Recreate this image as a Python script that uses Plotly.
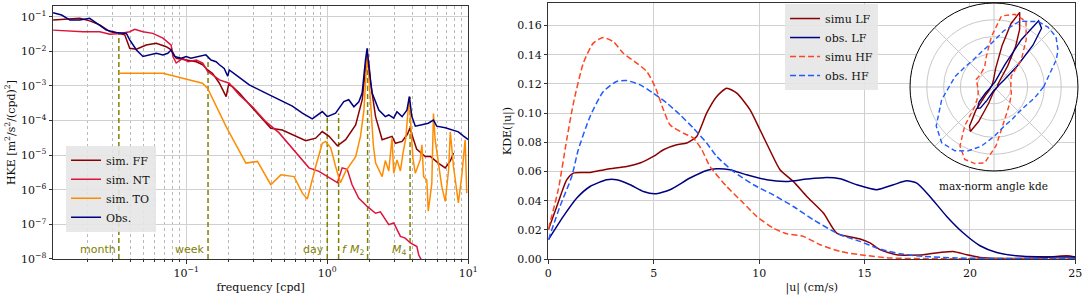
import numpy as np
import plotly.graph_objects as go

# ---------------- Left panel: HKE spectra ----------------
obs_f = [0.0114, 0.0131, 0.015, 0.0176, 0.0207, 0.0231, 0.0272, 0.032, 0.0377, 0.0398, 0.0444, 0.0494,
         0.055, 0.0614, 0.0684, 0.0741, 0.0783, 0.0827, 0.0922, 0.1, 0.108, 0.124, 0.138, 0.150, 0.163,
         0.172, 0.186, 0.197, 0.202, 0.225, 0.28, 0.367, 0.48, 0.566, 0.666, 0.783, 0.922, 1.0, 1.146,
         1.31, 1.42, 1.545, 1.675, 1.767, 1.866, 1.917, 1.97, 2.08, 2.32, 2.58, 2.73, 2.96, 3.12, 3.39,
         3.67, 3.82, 3.98, 4.21, 4.69, 5.2, 5.66, 5.97, 6.86, 7.85, 8.5, 9.2, 10.0]
obs_v = [0.13, 0.112, 0.080, 0.080, 0.090, 0.065, 0.041, 0.035, 0.033, 0.0214, 0.011, 0.0071,
         0.0079, 0.0088, 0.0079, 0.0088, 0.011, 0.0071, 0.0063, 0.0071, 0.0063, 0.0071, 0.0079, 0.0056, 0.0050,
         0.0041, 0.0032, 0.0019, 0.0029, 0.0021, 0.00107, 0.00062, 0.00035, 0.00026, 0.000163, 0.000112, 0.000182, 0.00013, 0.000163,
         0.000355, 0.0004, 0.00025, 0.00035, 0.00062, 0.0056, 0.01225, 0.0036, 0.00062, 0.0002, 0.00013, 0.000145, 0.000117, 0.00018, 0.00013,
         0.0002, 0.00049, 0.00013, 0.000069, 0.000076, 0.000084, 0.000103, 0.000069, 0.000062, 0.000053, 0.000047, 0.000036, 0.000028]

ff_f = [0.0114, 0.0142, 0.0176, 0.0207, 0.0244, 0.0288, 0.034, 0.0367, 0.0398, 0.0444, 0.052, 0.0614,
        0.0722, 0.0783, 0.085, 0.1, 0.118, 0.131, 0.142, 0.154, 0.172, 0.192, 0.2, 0.213, 0.238, 0.312,
        0.398, 0.48, 0.598, 0.704, 0.828, 0.922, 1.03, 1.18, 1.35, 1.59, 1.77, 1.87, 1.92, 1.98, 2.03,
        2.2, 2.45, 2.88, 3.04, 3.39, 3.7, 3.85, 4.0, 4.3, 4.95, 5.4, 6.13, 6.86, 7.45, 7.85]
ff_v = [0.080, 0.084, 0.090, 0.076, 0.058, 0.037, 0.033, 0.030, 0.0123, 0.0115, 0.0152, 0.017,
        0.0136, 0.011, 0.0063, 0.0056, 0.005, 0.0041, 0.0029, 0.0023, 0.0012, 0.00049, 0.0011, 0.00096, 0.00062, 0.00018,
        0.00006, 0.000053, 0.000035, 0.000026, 0.000031, 0.000048, 0.000035, 0.0000186, 0.000028, 0.000075, 0.0004, 0.003, 0.0095, 0.004, 0.0012,
        0.00013, 0.000028, 0.000035, 0.000022, 0.000025, 0.00004, 0.00006, 0.000035, 0.000015, 0.0000091, 0.0000091, 0.0000059, 0.0000043, 0.0000068, 0.0000115]

nt_f = [0.0114, 0.0186, 0.0244, 0.0288, 0.034, 0.0398, 0.0431, 0.0494, 0.058, 0.0684, 0.0783, 0.0805,
        0.085, 0.0946, 0.103, 0.118, 0.131, 0.142, 0.154, 0.172, 0.202, 0.238, 0.295, 0.367, 0.456, 0.552,
        0.63, 0.742, 0.874, 1.085, 1.18, 1.276, 1.385, 1.5, 1.63, 1.67, 1.92, 2.2, 2.38, 2.73, 2.96, 3.3,
        3.57, 3.88, 4.32, 4.45, 4.75]
nt_v = [0.041, 0.037, 0.037, 0.031, 0.033, 0.037, 0.0433, 0.037, 0.033, 0.024, 0.015, 0.0071,
        0.0046, 0.0063, 0.005, 0.0056, 0.0046, 0.0026, 0.0021, 0.0015, 0.0012, 0.00055, 0.00025, 0.000093, 0.000044, 0.000018,
        0.0000091, 0.0000043, 0.0000034, 0.00000195, 0.0000016, 0.0000043, 0.0000039, 0.0000014, 0.00000072, 0.00000058, 0.00000033, 0.00000021, 0.00000023, 0.000000098, 0.00000011, 0.000000045,
        0.00000004, 0.000000029, 0.000000023, 0.000000013, 0.000000008]

to_f = [0.0333, 0.0684, 0.1306, 0.142, 0.192, 0.265, 0.32, 0.398, 0.469, 0.582, 0.666, 0.722, 0.828,
        0.922, 0.975, 1.06, 1.146, 1.24, 1.35, 1.42, 1.59, 1.72, 1.82, 1.88, 1.93, 1.98, 2.05, 2.12, 2.2,
        2.32, 2.45, 2.58, 2.73, 2.88, 2.96, 3.12, 3.3, 3.45, 3.6, 3.72, 3.82, 3.92, 4.05, 4.21, 4.56, 4.69,
        4.82, 5.08, 5.2, 5.51, 5.66, 5.82, 6.13, 6.48, 6.86, 7.25, 7.45, 7.85, 8.5, 8.97, 9.49, 9.75]
to_v = [0.00233, 0.00233, 0.0012, 0.00085, 0.000067, 0.0000059, 0.0000066, 0.0000014, 0.0000027, 0.0000024, 0.0000008, 0.00000054, 0.0000047,
        0.000022, 0.000025, 0.000016, 0.0000047, 0.0000016, 0.0000034, 0.0000047, 0.0000091, 0.000035, 0.0002, 0.002, 0.0079, 0.0015, 0.00015, 0.00002, 0.000006,
        0.0000038, 0.0000024, 0.000007, 0.0000035, 0.000031, 0.000003, 0.0000073, 0.0000035, 0.000012, 0.00003, 0.00015, 0.00049, 0.00006, 0.000008, 0.000003, 0.0000073, 0.00002,
        0.0000024, 0.0000019, 0.00000024, 0.0000015, 0.00016, 0.000028, 0.0000073, 0.00000126, 0.00000046, 0.0000038, 0.000047, 0.0000047, 0.00000042, 0.0000024, 0.000028, 0.0000008]

# tidal / period markers
mark_names = ["month", "week", "day", "<i>f</i>", "<i>M</i><sub>2</sub>", "<i>M</i><sub>4</sub>"]
mark_f = [1 / 30, 1 / 7, 1.0, 1.204, 1.932, 3.864]
mark_top = [0.033, 0.0063, 0.00013, 0.00016, 0.012, 0.00049]

# ---------------- Right panel: speed KDE ----------------
simLF_u = [0, 0.4, 0.87, 1.19, 1.98, 2.77, 3.72, 4.35, 4.98, 5.46, 6.09, 6.57, 7.04, 7.51, 7.99, 8.46, 8.94, 9.57,
           10.04, 10.5, 10.99, 11.62, 12.26, 13.05, 13.68, 14.79, 15.26, 15.73, 16.53, 17.79, 18.58, 19.21,
           19.85, 20.48, 21.75, 23.2, 24.6, 25]
simLF_k = [0.0201, 0.036, 0.0543, 0.0589, 0.0593, 0.0616, 0.0634, 0.0658, 0.0703, 0.0749, 0.0783, 0.0795, 0.084,
           0.100, 0.1114, 0.1171, 0.1137, 0.1023, 0.0886, 0.0749, 0.0612, 0.0532, 0.0429, 0.0315, 0.0178, 0.0137,
           0.011, 0.0064, 0.0029, 0.0029, 0.0045, 0.0052, 0.0029, 0.0011, 0.0004, 0.0007, 0.0023, 0.0014]

obsLF_u = [0, 0.71, 1.35, 1.98, 2.77, 3.24, 3.88, 4.51, 5.06, 5.77, 6.72, 7.51, 7.99, 8.62, 9.41, 10.36, 11.31,
           12.26, 13.21, 13.84, 14.63, 15.58, 16.37, 17.0, 17.48, 18.1, 18.9, 19.69, 20.48, 21.27, 22.53, 25]
obsLF_k = [0.0132, 0.0292, 0.0418, 0.0497, 0.0543, 0.0543, 0.0509, 0.0463, 0.0447, 0.0475, 0.0555, 0.0607, 0.0619,
           0.0612, 0.0577, 0.0543, 0.0532, 0.0548, 0.0559, 0.055, 0.0509, 0.0475, 0.0509, 0.0536, 0.052, 0.0429,
           0.0292, 0.0178, 0.0091, 0.0045, 0.0018, 0.0014]

simHF_u = [0, 0.47, 0.87, 1.19, 1.66, 2.13, 2.61, 3.08, 3.56, 4.19, 4.67, 5.06, 5.46, 5.77, 6.4, 6.88, 7.28,
           7.67, 8.46, 9.25, 9.88, 10.67, 11.31, 12.1, 12.89, 13.84, 14.79, 16.2, 18.6, 25]
simHF_k = [0.0206, 0.0475, 0.0817, 0.1069, 0.1343, 0.148, 0.1518, 0.149, 0.141, 0.1343, 0.1285, 0.1182, 0.1023,
           0.092, 0.0863, 0.0829, 0.0749, 0.0634, 0.0497, 0.0384, 0.0292, 0.0212, 0.0173, 0.0155, 0.0098, 0.0052,
           0.0029, 0.0007, 0.0002, 0.0001]

obsHF_u = [0, 0.55, 1.11, 1.42, 1.98, 2.61, 3.24, 3.72, 4.35, 4.98, 5.62, 6.25, 6.88, 7.51, 7.99, 8.78, 9.73,
           10.67, 11.62, 12.57, 13.84, 14.79, 15.58, 16.68, 17.79, 19.37, 25]
obsHF_k = [0.0132, 0.036, 0.0566, 0.0749, 0.0977, 0.1148, 0.1217, 0.1223, 0.1194, 0.1137, 0.1069, 0.0988, 0.0897,
           0.0795, 0.0703, 0.06, 0.0509, 0.044, 0.036, 0.0269, 0.0166, 0.0121, 0.0075, 0.0036, 0.0018, 0.0007, 0.0002]

# ---------------- Inset: max-normalised angle KDE ----------------
simLF_th = [0, 30, 50, 57, 62, 66, 71, 75, 79, 85, 95, 120, 150, 180, 210, 225, 232, 238, 242, 246, 252, 262, 280, 310, 340]
simLF_r = [0.04, 0.05, 0.12, 0.3, 0.55, 0.75, 0.94, 0.78, 0.5, 0.22, 0.08, 0.04, 0.03, 0.04, 0.06, 0.15, 0.35, 0.55, 0.6, 0.45, 0.2, 0.07, 0.04, 0.03, 0.03]
obsLF_th = [0, 20, 35, 42, 47, 51, 56, 60, 64, 70, 80, 100, 150, 190, 215, 225, 232, 237, 242, 250, 270, 310, 340]
obsLF_r = [0.04, 0.06, 0.15, 0.37, 0.68, 0.9, 0.95, 0.65, 0.3, 0.12, 0.06, 0.04, 0.03, 0.04, 0.12, 0.25, 0.32, 0.3, 0.18, 0.08, 0.04, 0.03, 0.03]
simHF_th = [0, 31.6, 45, 55.7, 64, 74, 84, 93, 104, 114, 135, 157, 189, 210, 225, 233, 240, 248, 256, 263, 272, 288, 314, 340]
simHF_r = [0.2, 0.24, 0.46, 0.68, 0.87, 0.90, 0.85, 0.6, 0.375, 0.27, 0.22, 0.23, 0.19, 0.22, 0.32, 0.58, 0.81, 0.93, 0.94, 0.91, 0.70, 0.41, 0.27, 0.22]
obsHF_th = [0, 23.7, 30, 39, 48, 56, 68.7, 80, 93.5, 108, 123.7, 145, 165, 193.5, 214, 226.8, 238.6, 248, 258, 270, 285, 300, 315, 330, 345]
obsHF_r = [0.59, 0.81, 0.88, 0.95, 0.96, 0.94, 0.84, 0.68, 0.52, 0.45, 0.41, 0.42, 0.48, 0.64, 0.83, 0.91, 0.89, 0.82, 0.72, 0.59, 0.48, 0.44, 0.42, 0.44, 0.5]

# ---------------- Styling ----------------
C_FF, C_NT, C_TO, C_OBS = "#8B0000", "#DC143C", "#FF8C00", "#000080"
C_SHF, C_OHF = "#FF4422", "#1F5BFF"
OLIVE = "#808000"
FONT = "DejaVu Serif"
GRID = "#d0d0d0"
AX = "#333333"

fig = go.Figure()

# olive marker lines (behind curves)
for f, top in zip(mark_f, mark_top):
    fig.add_trace(go.Scatter(x=[f, f], y=[1e-8, top], mode="lines", showlegend=False, hoverinfo="skip",
                             line=dict(color=OLIVE, width=1.5, dash="5px,3px"), xaxis="x", yaxis="y"))

for name, xs, ys, col in [("sim. FF", ff_f, ff_v, C_FF), ("sim. NT", nt_f, nt_v, C_NT),
                          ("sim. TO", to_f, to_v, C_TO), ("Obs.", obs_f, obs_v, C_OBS)]:
    fig.add_trace(go.Scatter(x=xs, y=ys, mode="lines", name=name, legend="legend",
                             line=dict(color=col, width=1.5), xaxis="x", yaxis="y"))

for name, xs, ys, col, dash in [("simu LF", simLF_u, simLF_k, C_FF, "solid"),
                                ("obs. LF", obsLF_u, obsLF_k, C_OBS, "solid"),
                                ("simu HF", simHF_u, simHF_k, C_SHF, "6px,3px"),
                                ("obs. HF", obsHF_u, obsHF_k, C_OHF, "6px,3px")]:
    fig.add_trace(go.Scatter(x=xs, y=ys, mode="lines", name=name, legend="legend2",
                             line=dict(color=col, width=1.5, dash=dash, shape="spline", smoothing=0.6),
                             xaxis="x2", yaxis="y2"))

for th, r, col, dash in [(simLF_th, simLF_r, C_FF, "solid"), (obsLF_th, obsLF_r, C_OBS, "solid"),
                         (simHF_th, simHF_r, C_SHF, "5px,3px"), (obsHF_th, obsHF_r, C_OHF, "5px,3px")]:
    fig.add_trace(go.Scatterpolar(theta=list(th) + [th[0]], r=list(r) + [r[0]], mode="lines",
                                  showlegend=False, line=dict(color=col, width=1.4, dash=dash), subplot="polar"))

# marker labels
for name, f in zip(mark_names, mark_f):
    is_f = name == "<i>f</i>"
    fig.add_annotation(x=np.log10(f), y=-7.73, xref="x", yref="y", text=name, showarrow=False,
                       xanchor="left" if is_f else "right", yanchor="middle", xshift=1 if is_f else -1,
                       font=dict(family="DejaVu Sans", size=11, color=OLIVE))

fig.add_annotation(x=0.9162, y=0.2852, xref="paper", yref="paper", text="max-norm angle kde",
                   xanchor="center", yanchor="middle",
                   showarrow=False, font=dict(family=FONT, size=10.5, color="#111"))

minor_vals = [m * 10.0 ** e for e in (-2, -1, 0) for m in range(2, 10)]
pow_txt = {-8: "10<sup>−8</sup>", -7: "10<sup>−7</sup>", -6: "10<sup>−6</sup>", -5: "10<sup>−5</sup>",
           -4: "10<sup>−4</sup>", -3: "10<sup>−3</sup>", -2: "10<sup>−2</sup>", -1: "10<sup>−1</sup>",
           0: "10<sup>0</sup>", 1: "10<sup>1</sup>"}

axcommon = dict(showline=True, mirror=True, linecolor=AX, linewidth=1, ticks="outside", ticklen=3.5,
                tickcolor=AX, tickfont=dict(family=FONT, size=11, color="#111"), automargin=False,
                zeroline=False, gridcolor=GRID, gridwidth=1, showgrid=True)

fig.update_layout(
    width=1084, height=295, margin=dict(l=53, r=5, t=3, b=36, autoexpand=False),
    paper_bgcolor="white", plot_bgcolor="white",
    font=dict(family=FONT, size=11, color="#111"),
    xaxis=dict(domain=[0, 0.4048], type="log", range=[-1.944, 1.0], anchor="y",
               tickmode="array", tickvals=[0.1, 1, 10], ticktext=[pow_txt[-1], pow_txt[0], pow_txt[1]],
               minor=dict(tickmode="array", tickvals=minor_vals, showgrid=True, griddash="dot",
                          gridcolor="#b8b8b8", gridwidth=1, ticks="outside", ticklen=2, tickcolor=AX),
               title=dict(text="frequency [cpd]", font=dict(family=FONT, size=11), standoff=4), **axcommon),
    yaxis=dict(domain=[0, 0.9883], type="log", range=[-8, -0.69], anchor="x",
               tickmode="array", tickvals=[10.0 ** e for e in range(-8, 0)],
               ticktext=[pow_txt[e] for e in range(-8, 0)],
               title=dict(text="HKE [m<sup>2</sup>/s<sup>2</sup>/(cpd)<sup>2</sup>]",
                          font=dict(family=FONT, size=11), standoff=3), **axcommon),
    xaxis2=dict(domain=[0.4828, 0.9964], range=[0, 25], anchor="y2", tickmode="array",
                tickvals=[0, 5, 10, 15, 20, 25],
                title=dict(text="|u| (cm/s)", font=dict(family=FONT, size=11), standoff=4), **axcommon),
    yaxis2=dict(domain=[0, 1], range=[0, 0.1755], anchor="x2", tickmode="array",
                tickvals=[0, 0.02, 0.04, 0.06, 0.08, 0.10, 0.12, 0.14, 0.16],
                ticktext=["0.00", "0.02", "0.04", "0.06", "0.08", "0.10", "0.12", "0.14", "0.16"],
                title=dict(text="KDE(|u|)", font=dict(family=FONT, size=11), standoff=3), **axcommon),
    polar=dict(domain=dict(x=[0.8353, 0.9990], y=[0.3438, 1.0]), bgcolor="white",
               radialaxis=dict(range=[0, 1], showticklabels=False, ticks="", tickvals=[0.2, 0.4, 0.6, 0.8, 1.0],
                               gridcolor="#c8c8c8", showline=False),
               angularaxis=dict(showticklabels=False, ticks="", dtick=45, gridcolor="#c8c8c8",
                                linecolor="black", linewidth=1, rotation=0, direction="counterclockwise")),
    legend=dict(x=0.0127, y=0.442, xanchor="left", yanchor="top", bgcolor="rgba(229,229,229,0.9)",
                borderwidth=0, font=dict(family=FONT, size=11, color="#111"), itemwidth=30),
    legend2=dict(x=0.7135, y=0.996, xanchor="left", yanchor="top", bgcolor="rgba(229,229,229,0.9)",
                 borderwidth=0, font=dict(family=FONT, size=11, color="#111"), itemwidth=30),
)

fig.write_html("out.html", config={"displayModeBar": False},
               post_script="document.body.style.margin='0px';")
